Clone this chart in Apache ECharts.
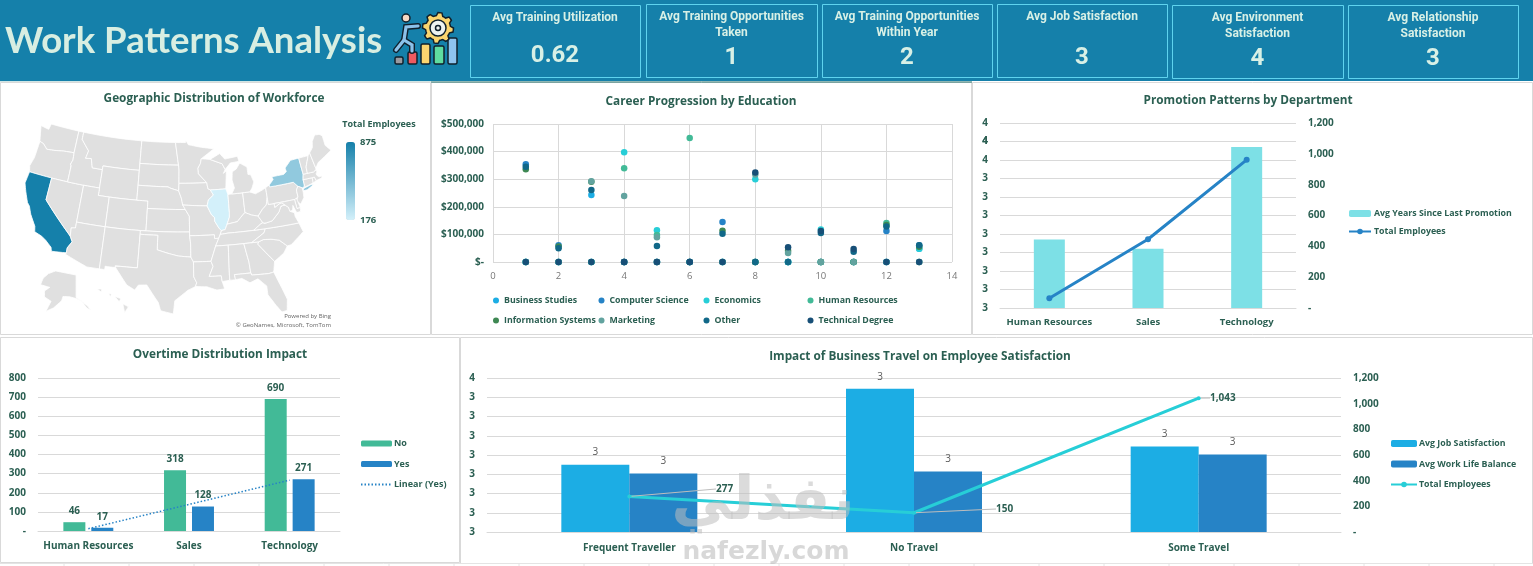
<!DOCTYPE html>
<html><head><meta charset="utf-8">
<style>html,body{margin:0;padding:0;background:#fff;overflow:hidden}#c{width:1533px;height:566px}</style>
<script src="https://cdn.jsdelivr.net/npm/echarts@6/dist/echarts.min.js"></script>
</head><body><div id="c"></div>
<script>
// ---------- data ----------
const kpiTitles=[['Avg Training Utilization'],['Avg Training Opportunities','Taken'],['Avg Training Opportunities','Within Year'],['Avg Job Satisfaction'],['Avg Environment','Satisfaction'],['Avg Relationship','Satisfaction']];
const kpiValues=['0.62','1','2','3','4','3'];
const departments=['Human Resources','Sales','Technology'];
const yearsSincePromotion=[3.07,3.02,3.57];
const departmentEmployees=[63,446,961];
const overtimeNo=[46,318,690];
const overtimeYes=[17,128,271];
const overtimeTrend=[12,139,266];
const travelCategories=['Frequent Traveller','No Travel','Some Travel'];
const travelJobSatisfaction=[3.275,3.472,3.322];
const travelWorkLife=[3.252,3.257,3.301];
const travelEmployees=[277,150,1043];
const stateEmployees=[['California',875],['New York',419],['Illinois',176]];
const educationNames=['Business Studies','Computer Science','Economics','Human Resources','Information Systems','Marketing','Other','Technical Degree'];
const scatterX=[1,2,3,4,5,6,7,8,9,10,11,12,13];
const businessStudies=[0,0,243000,0,0,0,0,0,0,0,0,0,48000];
const computerScience=[354000,61000,0,0,0,0,145000,0,0,0,0,112000,61000];
const economics=[0,0,0,398000,115000,0,0,300000,0,118000,0,0,48000];
const humanResources=[0,0,0,340000,98000,449000,0,0,0,0,0,141000,0];
const informationSystems=[336000,56000,291000,0,0,0,113000,0,41000,0,0,134000,55000];
const marketing=[0,0,293000,239000,90000,0,0,317000,33000,0,0,0,0];
const otherEducation=[345000,50000,261000,0,58000,0,102000,0,0,105000,37000,129000,61000];
const technicalDegree=[0,0,0,0,0,0,0,324000,53000,112000,47000,0,0];
const educationValues=[businessStudies,computerScience,economics,humanResources,informationSystems,marketing,otherEducation,technicalDegree];

// simplified state outlines (lon/lat), used only as the base map
const statePolys={
Washington:[[[-124.7,48.4],[-123,48.2],[-122.8,49],[-117,49],[-117,46.4],[-117,46],[-119,45.9],[-121,45.65],[-122.3,45.55],[-123.2,46.15],[-124,46.3]]],
Oregon:[[[-124,46.3],[-123.2,46.15],[-122.3,45.55],[-121,45.65],[-119,45.9],[-117,46],[-116.9,45],[-117.2,44.4],[-117,44.2],[-117,42],[-120,42],[-124.2,42],[-124.5,42.8],[-124.1,44]]],
California:[[[-124.2,42],[-120,42],[-120,39],[-114.6,35],[-114.1,34.3],[-114.7,33.4],[-114.7,32.7],[-117.1,32.5],[-117.3,33],[-118.4,33.75],[-119.2,34.15],[-120.5,34.5],[-120.7,35.2],[-121.9,36.6],[-122.5,37.6],[-123,38],[-123.8,39.3],[-124.4,40.4]]],
Nevada:[[[-120,42],[-117,42],[-114,42],[-114,37],[-114,36.2],[-114.7,36.1],[-114.6,35],[-120,39]]],
Idaho:[[[-117,49],[-116,49],[-116,48],[-114.3,46.65],[-114.6,45.6],[-113.5,45.7],[-113,44.5],[-111.05,44.5],[-111.05,42],[-114,42],[-117,42],[-117,44.2],[-117.2,44.4],[-116.9,45],[-117,46]]],
Montana:[[[-116,49],[-104.05,49],[-104.05,45.94],[-104.05,45],[-111.05,45],[-111.05,44.5],[-113,44.5],[-113.5,45.7],[-114.6,45.6],[-114.3,46.65],[-116,48]]],
Wyoming:[[[-111.05,45],[-104.05,45],[-104.05,43],[-104.05,41],[-109.05,41],[-111.05,41],[-111.05,42],[-111.05,44.5]]],
Utah:[[[-114,42],[-111.05,42],[-111.05,41],[-109.05,41],[-109.05,37],[-114,37]]],
Colorado:[[[-109.05,41],[-104.05,41],[-102.05,41],[-102.05,40],[-102.05,37],[-103,37],[-109.05,37]]],
Arizona:[[[-114,37],[-109.05,37],[-109.05,31.33],[-111.07,31.33],[-114.8,32.5],[-114.7,32.7],[-114.7,33.4],[-114.1,34.3],[-114.6,35],[-114.7,36.1],[-114,36.2]]],
'New Mexico':[[[-109.05,37],[-103,37],[-103,36.5],[-103.05,32],[-106.6,32],[-106.5,31.75],[-108.2,31.78],[-108.2,31.33],[-109.05,31.33]]],
'North Dakota':[[[-104.05,49],[-97.2,49],[-96.55,45.94],[-104.05,45.94]]],
'South Dakota':[[[-104.05,45.94],[-96.55,45.94],[-96.45,45.3],[-96.45,43.5],[-96.5,42.5],[-97.9,42.8],[-98.5,43],[-104.05,43]]],
Nebraska:[[[-104.05,43],[-98.5,43],[-97.9,42.8],[-96.5,42.5],[-96,41.5],[-95.75,40.6],[-95.3,40],[-102.05,40],[-102.05,41],[-104.05,41]]],
Kansas:[[[-102.05,40],[-95.3,40],[-94.6,39.1],[-94.6,37],[-103,37],[-102.05,37]]],
Oklahoma:[[[-103,37],[-94.6,37],[-94.6,36.5],[-94.45,35.4],[-94.45,33.65],[-96.5,33.8],[-98,34.1],[-100,34.56],[-100,36.5],[-103,36.5]]],
Texas:[[[-103,36.5],[-100,36.5],[-100,34.56],[-98,34.1],[-96.5,33.8],[-94.45,33.65],[-94.04,33],[-94.04,31],[-93.6,30.2],[-93.8,29.7],[-95,29.2],[-97,27.8],[-97.2,26],[-99.1,26.4],[-99.5,27.5],[-101.4,29.8],[-102.7,29.7],[-103.2,29],[-104.5,29.6],[-106.5,31.75],[-106.6,32],[-103.05,32]]],
Minnesota:[[[-97.2,49],[-95.15,49],[-95.15,49.35],[-94.6,48.7],[-92,48.3],[-89.5,48],[-92.1,46.75],[-92.3,46.1],[-92.8,45.5],[-92.75,44.75],[-91.25,43.5],[-96.45,43.5],[-96.45,45.3],[-96.55,45.94]]],
Iowa:[[[-96.45,43.5],[-91.25,43.5],[-91.1,42.7],[-90.65,42.5],[-90.15,41.8],[-91.1,41.2],[-91.4,40.4],[-95.75,40.6],[-96,41.5],[-96.5,42.5]]],
Missouri:[[[-95.75,40.6],[-91.4,40.4],[-90.7,39.2],[-90.2,38.8],[-90.2,38.3],[-89.5,37.3],[-89.15,37],[-89.7,36],[-90.4,36],[-90.4,36.5],[-94.6,36.5],[-94.6,37],[-94.6,39.1],[-95.3,40]]],
Arkansas:[[[-94.6,36.5],[-90.4,36.5],[-90.4,36],[-89.7,36],[-90.3,35],[-91.2,33],[-94.04,33],[-94.45,33.65],[-94.45,35.4]]],
Louisiana:[[[-94.04,33],[-91.2,33],[-90.9,32.3],[-91.6,31],[-89.7,31],[-89.6,30.2],[-89.3,29.2],[-90.5,29.1],[-92,29.6],[-93.8,29.7],[-93.6,30.2],[-94.04,31]]],
Wisconsin:[[[-92.1,46.75],[-90.4,46.6],[-88.1,45.9],[-87.6,45.1],[-88,44.6],[-87.4,44.9],[-87.5,44.3],[-87.8,42.5],[-90.65,42.5],[-91.1,42.7],[-91.25,43.5],[-92.75,44.75],[-92.8,45.5],[-92.3,46.1]]],
Illinois:[[[-90.65,42.5],[-87.8,42.5],[-87.5,41.7],[-87.53,39.3],[-87.6,38.7],[-88.1,37.8],[-88.5,37.1],[-89.15,37],[-89.5,37.3],[-90.2,38.3],[-90.2,38.8],[-90.7,39.2],[-91.4,40.4],[-91.1,41.2],[-90.15,41.8]]],
Indiana:[[[-87.5,41.7],[-87.2,41.75],[-84.8,41.75],[-84.8,39.1],[-85.4,38.7],[-86.3,38],[-88.1,37.8],[-87.6,38.7],[-87.53,39.3]]],
Michigan:[[[-86.8,41.75],[-84.8,41.75],[-83.5,41.73],[-83,42.2],[-82.5,43],[-82.9,44],[-83.4,44.1],[-83.4,45.1],[-84.7,45.75],[-85.5,45],[-86.3,44.7],[-86.5,43.6],[-86.2,42.5]],[[-90.4,46.6],[-88.1,45.9],[-87.6,45.1],[-86.5,45.9],[-84.8,46],[-85,46.7],[-87.5,46.5],[-88.4,47.3]]],
Ohio:[[[-84.8,41.75],[-83.5,41.73],[-82.5,41.4],[-81.2,41.75],[-80.52,42],[-80.52,40.64],[-80.9,39.7],[-81.7,39.2],[-82.6,38.4],[-83.7,38.65],[-84.8,39.1]]],
Kentucky:[[[-89.15,37],[-88.5,37.1],[-88.1,37.8],[-86.3,38],[-85.4,38.7],[-84.8,39.1],[-83.7,38.65],[-82.6,38.4],[-82,37.5],[-83.7,36.6],[-88.07,36.6],[-89.4,36.5]]],
Tennessee:[[[-90.3,35],[-89.7,36],[-89.4,36.5],[-88.07,36.6],[-83.7,36.6],[-81.7,36.6],[-82,36.1],[-84.3,35],[-85.6,35],[-88.2,35]]],
Mississippi:[[[-90.3,35],[-88.2,35],[-88.4,31],[-88.4,30.3],[-89.6,30.2],[-89.7,31],[-91.6,31],[-90.9,32.3],[-91.2,33]]],
Alabama:[[[-88.2,35],[-85.6,35],[-85.1,32.5],[-85,31],[-87.6,31],[-87.5,30.3],[-88.4,30.3],[-88.4,31]]],
Georgia:[[[-85.6,35],[-84.3,35],[-83.1,35],[-83.3,34.7],[-81,32.1],[-81.4,30.7],[-82.2,30.6],[-84.9,30.7],[-85,31],[-85.1,32.5]]],
Florida:[[[-87.6,31],[-85,31],[-84.9,30.7],[-82.2,30.6],[-81.4,30.7],[-80.5,28.3],[-80,26.8],[-80.3,25.3],[-81.1,25.2],[-81.8,26.2],[-82.8,27.8],[-82.8,29],[-84,30.1],[-85.3,29.7],[-86.5,30.4],[-87.5,30.3]]],
'South Carolina':[[[-83.1,35],[-82.3,35.2],[-81,35.1],[-79.7,34.8],[-78.55,33.85],[-79.3,33],[-81,32.1],[-83.3,34.7]]],
'North Carolina':[[[-84.3,35],[-82,36.1],[-81.7,36.6],[-75.9,36.55],[-75.5,35.3],[-76.5,34.7],[-77.9,33.9],[-78.55,33.85],[-79.7,34.8],[-81,35.1],[-82.3,35.2],[-83.1,35]]],
Virginia:[[[-83.7,36.6],[-81.7,36.6],[-75.9,36.55],[-76.3,37.5],[-76.3,38],[-77,38.3],[-77.1,38.85],[-77.7,39.3],[-78.4,39.2],[-78.9,38.5],[-80.3,37.5],[-81.7,37.3],[-82,37.5]]],
'West Virginia':[[[-82.6,38.4],[-82,37.5],[-81.7,37.3],[-80.3,37.5],[-78.9,38.5],[-78.4,39.2],[-77.7,39.3],[-78.2,39.7],[-79.48,39.2],[-79.48,39.72],[-80.52,39.72],[-80.52,40.64],[-80.9,39.7],[-81.7,39.2]]],
Pennsylvania:[[[-80.52,42],[-79.76,42.27],[-79.76,42],[-75.35,42],[-74.7,41.35],[-75.1,40.9],[-75.1,40],[-75.4,39.8],[-75.8,39.72],[-79.48,39.72],[-80.52,39.72],[-80.52,40.64]]],
'New York':[[[-79.76,42.27],[-78.9,42.9],[-79.05,43.3],[-76.8,43.3],[-76.2,43.6],[-76.3,44.1],[-75,44.95],[-73.35,45],[-73.3,43.6],[-73.25,42.75],[-73.5,42.05],[-73.5,41.3],[-73.65,41],[-74,41],[-74.7,41.35],[-75.35,42],[-79.76,42]],[[-74,40.6],[-73.7,40.9],[-72.3,41.15],[-71.9,41.05],[-73.2,40.6]]],
'New Jersey':[[[-75.1,40.9],[-74.7,41.35],[-74,41],[-74,40.4],[-74.1,39.7],[-74.9,38.95],[-75.5,39.5],[-75.1,40]]],
Delaware:[[[-75.8,39.72],[-75.4,39.8],[-75.1,38.5],[-75.7,38.46]]],
Maryland:[[[-79.48,39.72],[-75.8,39.72],[-75.7,38.46],[-75.1,38.5],[-75.2,38],[-75.9,37.95],[-76.3,39],[-76.5,38.4],[-77,38.3],[-77.1,38.85],[-77.7,39.3],[-78.2,39.7],[-79.48,39.2]]],
Connecticut:[[[-73.5,42.05],[-71.8,42],[-71.85,41.3],[-73.65,41],[-73.5,41.3]]],
'Rhode Island':[[[-71.8,42],[-71.38,42],[-71.2,41.5],[-71.85,41.3]]],
Massachusetts:[[[-73.25,42.75],[-72.45,42.73],[-71.3,42.7],[-70.8,42.85],[-70.6,42.65],[-71,42.3],[-70.5,41.8],[-70,42],[-70,41.65],[-71.2,41.5],[-71.38,42],[-71.8,42],[-73.5,42.05]]],
Vermont:[[[-73.35,45],[-71.5,45],[-72.4,43.6],[-72.45,42.73],[-73.25,42.75],[-73.3,43.6]]],
'New Hampshire':[[[-71.5,45],[-71.08,45.3],[-70.7,43.1],[-70.8,42.85],[-71.3,42.7],[-72.45,42.73],[-72.4,43.6]]],
Maine:[[[-71.08,45.3],[-70.3,45.9],[-70,46.7],[-69.2,47.45],[-68.3,47.35],[-67.8,47.05],[-67.8,45.7],[-67,44.85],[-68.5,44.3],[-70,43.75],[-70.7,43.1]]],
Alaska:[[[-168,65.6],[-166,68.3],[-162,70.2],[-156.5,71.3],[-141,69.6],[-141,60.3],[-137,58.9],[-133,56],[-130,55],[-132,56.6],[-136,58.4],[-140,59.7],[-146,60.6],[-151,60.7],[-152,58.9],[-158,56],[-164,54.5],[-160,58.7],[-165,60.5],[-165,63],[-161,64.5]]],
Hawaii:[[[-160,22.2],[-159.3,22.2],[-159.4,21.8]],[[-158.2,21.6],[-157.7,21.5],[-157.9,21.2]],[[-157.2,21.2],[-156.2,20.9],[-156.5,20.5]],[[-155.9,20.2],[-155,19.8],[-155.6,19]]]
};

// ---------- map projection ----------
const D=Math.PI/180,n=0.603,C=Math.cos(29.5*D)**2+2*n*Math.sin(29.5*D),rho0=Math.sqrt(C-2*n*Math.sin(37.5*D))/n;
const albers=(lon,lat)=>{const r=Math.sqrt(C-2*n*Math.sin(lat*D))/n,t=n*(lon+96)*D;return [r*Math.sin(t),r*Math.cos(t)-rho0];};
const projection={
  project(p){const lon=p[0],lat=p[1];
    if(lat>50&&lon<-129)return [-.332+(lon+168)/38*.118,.099+(71.5-lat)/17.5*.099];
    if(lon<-150&&lat<25)return [-.198+(lon+160)/5.2*.076,.141+(22.3-lat)/3.3*.057];
    return albers(lon,lat);},
  unproject(p){const dy=p[1]+rho0,r=Math.hypot(p[0],dy),t=Math.atan2(p[0],dy);return [t/n/D-96,Math.asin((C-(r*n)**2)/(2*n))/D];}
};
const densify=ring=>{const out=[];ring.forEach((a,i)=>{const b=ring[(i+1)%ring.length];for(let k=0;k<4;k++)out.push([a[0]+(b[0]-a[0])*k/4,a[1]+(b[1]-a[1])*k/4]);});out.push(out[0].slice());return out;};
echarts.registerMap('USA',{type:'FeatureCollection',features:Object.keys(statePolys).map(name=>({type:'Feature',properties:{name},geometry:{type:'MultiPolygon',coordinates:statePolys[name].map(r=>[densify(r)])}}))});

// ---------- style ----------
const DARK='#2b5f52',FONT='"Open Sans","Noto Sans",sans-serif',GRID='#d9d9d9';
const txt=(text,x,y,o={})=>({type:'text',x,y,z:o.z||5,silent:true,style:Object.assign({text,fill:DARK,font:`bold 11px ${FONT}`,align:'center',verticalAlign:'middle'},o.style||{})});
const rect=(x,y,w,h,fill,stroke,lw,z)=>({type:'rect',shape:{x,y,width:w,height:h},z:z||0,silent:true,style:{fill:fill||'none',stroke:stroke||'none',lineWidth:lw||1}});
const line=(x1,y1,x2,y2,stroke,w,z)=>({type:'line',shape:{x1,y1,x2,y2},z:z||1,silent:true,style:{stroke,lineWidth:w||1}});

const g=[];
// sheet lines at bottom
g.push(line(0,563.5,1533,563.5,'#e4e4e4',1,0));
for(let x=64;x<1533;x+=65)g.push(line(x,563,x,566,'#e4e4e4',1,0));
// panels
[[0.5,82.5,430,252],[431.5,82.5,540,252],[972.5,82.5,560,252],[0.5,337.5,459,225],[460.5,337.5,1072,226]].forEach(p=>g.push(rect(p[0],p[1],p[2],p[3],'#fff',GRID,1,0)));
g.push(line(431,82,972,82,'#1f6f68',1,1));
// header
g.push(rect(0,0,1533,81,'#1580aa',null,0,1));
g.push(line(0,81.5,431,81.5,'#cfe5e5',1,2));
g.push(txt('Work Patterns Analysis',5,41,{z:3,style:{font:`bold 36.5px Lato,"Open Sans",sans-serif`,fill:'#d8eee2',align:'left'}}));
// icon
[[395,57,8,7,'#9a9aa0'],[408,52,9,12,'#ee5a60'],[421,44,9,20,'#fbd56f'],[434,46,10,18,'#5fdca0'],[448,38,9,26,'#8fc4ee']].forEach(b=>g.push({type:'rect',shape:{x:b[0],y:b[1],width:b[2],height:b[3],r:1.5},z:3,silent:true,style:{fill:b[4],stroke:'#10202c',lineWidth:1.5}}));
const gear=[];for(let i=0;i<48;i++){const a=i/48*2*Math.PI,r=(Math.floor(i/3)%2===0)?15.5:12.5;gear.push([438+r*Math.cos(a),28+r*Math.sin(a)]);}
g.push({type:'polygon',shape:{points:gear},z:3,silent:true,style:{fill:'#fbd56f',stroke:'#10202c',lineWidth:1.5}});
g.push({type:'circle',shape:{cx:438,cy:28,r:8},z:3,silent:true,style:{fill:'#eef3f1',stroke:'#10202c',lineWidth:1.5}});
g.push({type:'circle',shape:{cx:438,cy:28,r:2.5},z:3,silent:true,style:{fill:'#eef3f1',stroke:'#10202c',lineWidth:1.5}});
[['#10202c',6],['#8cc2ea',3.2]].forEach(s=>{
  g.push({type:'polyline',shape:{points:[[418,26],[406,27],[404,40],[396,50]]},z:3,silent:true,style:{stroke:s[0],lineWidth:s[1],fill:'none',lineCap:'round'}});
  g.push({type:'polyline',shape:{points:[[404,40],[412,45],[412,51]]},z:3,silent:true,style:{stroke:s[0],lineWidth:s[1],fill:'none',lineCap:'round'}});
});
g.push({type:'circle',shape:{cx:406,cy:18,r:4},z:3,silent:true,style:{fill:'#f6d9c4',stroke:'#10202c',lineWidth:1.5}});
// KPI
const kpiBoxes=[[470,5,170,72],[646,4,171,73],[822,4,170,73],[997,4,170,73],[1172,5,171,73],[1348,5,170,73]];
kpiBoxes.forEach((b,i)=>{
  g.push(rect(b[0]+.5,b[1]+.5,b[2],b[3],null,'#5fd3ee',1,2));
  const cx=b[0]+b[2]/2,t=kpiTitles[i];
  t.forEach((s,k)=>g.push(txt(s,cx,b[1]+13+k*16,{z:3,style:{fill:'#d8f0e6',font:`bold 12px "Liberation Sans Narrow","Roboto",sans-serif`}})));
  g.push(txt(kpiValues[i],cx,b[1]+51+ (i?3:0),{z:3,style:{fill:'#d8f0e6',font:`bold 24px "Liberation Sans Narrow","Roboto",sans-serif`}}));
});
// titles
[['Geographic Distribution of Workforce',214,99],['Career Progression by Education',701,102],['Promotion Patterns by Department',1248,101],['Overtime Distribution Impact',220,355],['Impact of Business Travel on Employee Satisfaction',920,357]].forEach(t=>g.push(txt(t[0],t[1],t[2],{style:{font:`bold 11.8px ${FONT}`}})));
// second tick label of the promotion axis
g.push(txt('4',988,141.5,{style:{align:'right',font:`bold 10px ${FONT}`}}));
// map legend + credits
g.push(txt('Total Employees',379,124,{style:{font:`bold 9px ${FONT}`}}));
g.push(txt('875',360,142,{style:{align:'left',font:`bold 9.5px ${FONT}`}}));
g.push(txt('176',360,220,{style:{align:'left',font:`bold 9.5px ${FONT}`}}));
g.push(txt('Powered by Bing',331,316,{style:{align:'right',fill:'#666',font:`6px ${FONT}`}}));
g.push(txt('© GeoNames, Microsoft, TomTom',331,325,{style:{align:'right',fill:'#666',font:`6px ${FONT}`}}));
// watermark
g.push(txt('نفذلي',763,503,{z:50,style:{fill:'rgba(190,190,190,.55)',font:`bold 60px "DejaVu Sans",sans-serif`}}));
g.push(txt('nafezly.com',766,552,{z:50,style:{fill:'rgba(190,190,190,.6)',font:`bold 25px "DejaVu Sans",sans-serif`}}));

// ---------- axis helpers ----------
const axisText={color:DARK,fontFamily:FONT,fontWeight:'bold',fontSize:10};
const num=v=>v===0?'-':v.toLocaleString('en-US');
const rounded=v=>String(Math.round(v+1e-9));
const catAxis=(gridIndex,data,o={})=>Object.assign({type:'category',gridIndex,data,axisTick:{show:false},axisLine:{show:true,lineStyle:{color:GRID}}},o);
const catLabel=(margin,fontSize)=>Object.assign({},axisText,{margin,fontSize,interval:0});
const valAxis=(gridIndex,o={})=>Object.assign({type:'value',gridIndex,axisLine:{show:false},axisTick:{show:false},splitLine:{show:true,lineStyle:{color:GRID}},axisLabel:Object.assign({},axisText,{margin:12})},o);
const rightAxis=(gridIndex,o={})=>Object.assign(valAxis(gridIndex,{splitLine:{show:false},position:'right'}),{min:0,max:1200,interval:200,axisLabel:Object.assign({},axisText,{margin:12,formatter:num})},o);
const legendText=(pad,size)=>({color:DARK,fontFamily:FONT,fontWeight:'bold',fontSize:size||9,padding:[0,0,0,pad||0]});

const blues=['#1cade4','#2683c6','#27ced7','#42ba97','#3e8853','#62a39f','#116888','#174f77'];
const legendCols=[493,598.5,703.5,807.5],legendRows=[296,316];
const scatterLegends=educationNames.map((name,i)=>({data:[name],left:legendCols[i%4],top:legendRows[i>3?1:0],icon:'circle',itemWidth:6,itemHeight:6,itemGap:0,padding:0,textStyle:legendText(0,8.8),selectedMode:false}));

const option={
  animation:false,
  textStyle:{fontFamily:FONT},
  graphic:{elements:g},
  visualMap:[{type:'continuous',seriesIndex:0,min:176,max:875,left:346,top:142,padding:0,itemWidth:9,itemHeight:78,text:null,showLabel:false,calculable:false,hoverLink:false,inRange:{color:['#d3f0fa','#1580aa']}}],
  grid:[
    {left:493,top:124,width:459,height:138},
    {left:1000,top:123,width:296,height:185},
    {left:38,top:378,width:302,height:153},
    {left:487,top:378,width:854,height:154}
  ],
  xAxis:[
    {type:'value',gridIndex:0,min:0,max:14,interval:2,axisLine:{show:false},axisTick:{show:false},splitLine:{show:true,lineStyle:{color:GRID}},axisLabel:{color:'#777',fontFamily:FONT,fontSize:9.5,margin:9}},
    catAxis(1,departments,{axisLabel:catLabel(9,9.5)}),
    catAxis(2,departments,{axisLabel:catLabel(10,10)}),
    catAxis(3,travelCategories,{axisLabel:catLabel(11,10)})
  ],
  yAxis:[
    valAxis(0,{min:0,max:500000,interval:100000,axisLabel:Object.assign({},axisText,{margin:9,formatter:v=>v===0?'$-':'$'+v.toLocaleString('en-US')})}),
    // tenths of a year, so that the ticks stay exact multiples of the interval
    valAxis(1,{min:27,max:37,interval:1,axisLabel:Object.assign({},axisText,{margin:12,textMargin:[0,0],showMinLabel:true,showMaxLabel:true,formatter:v=>String(Math.round(v/10))})}),
    rightAxis(1),
    valAxis(2,{min:0,max:800,interval:100,axisLabel:Object.assign({},axisText,{margin:12,formatter:num})}),
    valAxis(3,{min:3.1,max:3.5,interval:0.05,axisLabel:Object.assign({},axisText,{margin:12,formatter:rounded})}),
    rightAxis(3)
  ],
  legend:[
    ...scatterLegends,
    {data:['Avg Years Since Last Promotion','Total Employees '],orient:'vertical',left:1348,top:209,itemWidth:22,itemHeight:7,itemGap:9,padding:0,textStyle:legendText(-2,8.8),selectedMode:false},
    {data:['No','Yes',{name:'Linear (Yes)',itemStyle:{opacity:0}}],orient:'vertical',left:360,top:439,itemWidth:31,itemHeight:6,itemGap:11.5,padding:0,textStyle:legendText(-3),selectedMode:false},
    {data:['Avg Job Satisfaction','Avg Work Life Balance','Total Employees'],orient:'vertical',left:1390,top:439,itemWidth:26,itemHeight:7,itemGap:11.5,padding:0,textStyle:legendText(-3,8.8),selectedMode:false}
  ],
  series:[
    {type:'map',map:'USA',projection,left:25,top:124,width:306,height:190,roam:false,silent:true,selectedMode:false,showLegendSymbol:false,label:{show:false},emphasis:{disabled:true},
     itemStyle:{areaColor:'#e0e0e0',borderColor:'#fff',borderWidth:0.8},
     data:stateEmployees.map(s=>({name:s[0],value:s[1]}))},
    ...educationNames.map((name,i)=>({name,type:'scatter',xAxisIndex:0,yAxisIndex:0,symbolSize:6.5,itemStyle:{color:blues[i],opacity:1},data:scatterX.map((x,k)=>[x,educationValues[i][k]])})),
    {name:'Avg Years Since Last Promotion',type:'bar',xAxisIndex:1,yAxisIndex:1,barWidth:31,itemStyle:{color:'#7de0e6'},data:yearsSincePromotion.map(v=>v*10)},
    {name:'Total Employees ',type:'line',xAxisIndex:1,yAxisIndex:2,symbol:'circle',symbolSize:6,lineStyle:{color:'#2683c6',width:3},itemStyle:{color:'#2683c6'},data:departmentEmployees},
    {name:'No',type:'bar',xAxisIndex:2,yAxisIndex:3,barWidth:22,barGap:'27%',itemStyle:{color:'#42ba97'},label:{show:true,position:'top',distance:6,color:DARK,fontFamily:FONT,fontWeight:'bold',fontSize:10},data:overtimeNo},
    {name:'Yes',type:'bar',xAxisIndex:2,yAxisIndex:3,barWidth:22,barGap:'27%',itemStyle:{color:'#2683c6'},label:{show:true,position:'top',distance:6,color:DARK,fontFamily:FONT,fontWeight:'bold',fontSize:10},data:overtimeYes},
    {name:'Linear (Yes)',type:'line',xAxisIndex:2,yAxisIndex:3,symbol:'none',lineStyle:{color:'#2683c6',width:1.5,type:[1.5,2]},itemStyle:{color:'#2683c6'},z:4,data:overtimeTrend},
    {name:'Avg Job Satisfaction',type:'bar',xAxisIndex:3,yAxisIndex:4,barWidth:68,barGap:0,itemStyle:{color:'#1cade4'},label:{show:true,position:'top',distance:7,color:'#595959',fontFamily:FONT,fontSize:10,formatter:p=>Math.round(p.value)},data:travelJobSatisfaction},
    {name:'Avg Work Life Balance',type:'bar',xAxisIndex:3,yAxisIndex:4,barWidth:68,barGap:0,itemStyle:{color:'#2683c6'},label:{show:true,position:'top',distance:7,color:'#595959',fontFamily:FONT,fontSize:10,formatter:p=>Math.round(p.value)},data:travelWorkLife},
    {name:'Total Employees',type:'line',xAxisIndex:3,yAxisIndex:5,symbol:'circle',symbolSize:4,lineStyle:{color:'#27ced7',width:3},itemStyle:{color:'#27ced7'},z:4,
     label:{show:true,position:'right',color:DARK,fontFamily:FONT,fontWeight:'bold',fontSize:10,formatter:p=>p.value.toLocaleString('en-US')},
     labelLine:{show:true,lineStyle:{color:'#bdbdbd',width:1}},
     labelLayout:p=>[{x:716,y:484},{x:996,y:504},{x:1210,y:393}][p.dataIndex],
     data:travelEmployees}
  ]
};
echarts.init(document.getElementById('c'),null,{renderer:'canvas'}).setOption(option);
</script></body></html>
